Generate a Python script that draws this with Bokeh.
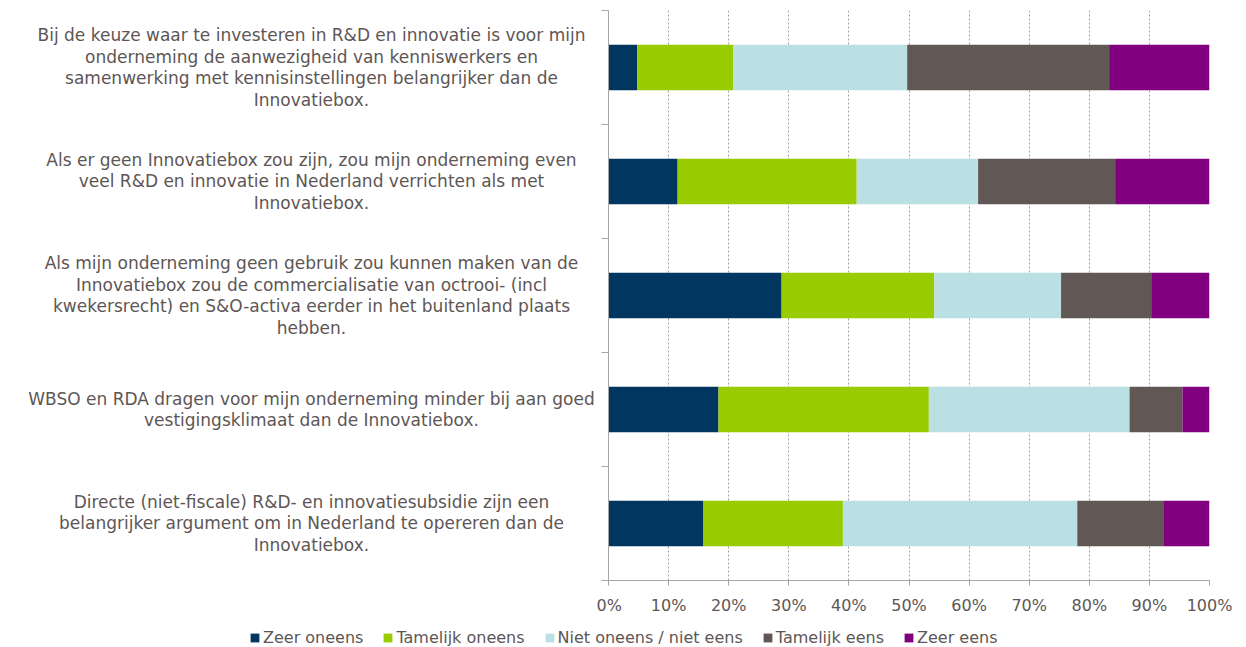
from bokeh.plotting import figure
from bokeh.layouts import column, row
from bokeh.models import Range1d, FixedTicker, PrintfTickFormatter, ColumnDataSource, Legend, LegendItem
from bokeh.core.properties import value
from bokeh.embed import file_html
from bokeh.resources import INLINE

statements = [
    "Bij de keuze waar te investeren in R&D en innovatie is voor mijn\nonderneming de aanwezigheid van kenniswerkers en\nsamenwerking met kennisinstellingen belangrijker dan de\nInnovatiebox.",
    "Als er geen Innovatiebox zou zijn, zou mijn onderneming even\nveel R&D en innovatie in Nederland verrichten als met\nInnovatiebox.",
    "Als mijn onderneming geen gebruik zou kunnen maken van de\nInnovatiebox zou de commercialisatie van octrooi- (incl\nkwekersrecht) en S&O-activa eerder in het buitenland plaats\nhebben.",
    "WBSO en RDA dragen voor mijn onderneming minder bij aan goed\nvestigingsklimaat dan de Innovatiebox.",
    "Directe (niet-fiscale) R&D- en innovatiesubsidie zijn een\nbelangrijker argument om in Nederland te opereren dan de\nInnovatiebox.",
]
series_names = ["Zeer oneens", "Tamelijk oneens", "Niet oneens / niet eens", "Tamelijk eens", "Zeer eens"]
zeer_oneens     = [4.8, 11.5, 28.8, 18.3, 15.8]
tamelijk_oneens = [16.0, 29.8, 25.4, 35.0, 23.2]
neutraal        = [28.9, 20.2, 21.1, 33.4, 39.0]
tamelijk_eens   = [33.6, 22.8, 15.0, 8.8, 14.3]
zeer_eens       = [16.7, 15.7, 9.7, 4.5, 7.7]
x_ticks = [0, 10, 20, 30, 40, 50, 60, 70, 80, 90, 100]
colors = ["#00365F", "#99CC00", "#BAE0E3", "#615755", "#800080"]

TEXT = "#5E5655"
FONT = "DejaVu Sans"
n = len(statements)
ypos = [n - 0.5 - i for i in range(n)]
keys = ["s0", "s1", "s2", "s3", "s4"]
source = ColumnDataSource(dict(y=ypos, label=statements,
                               s0=zeer_oneens, s1=tamelijk_oneens, s2=neutraal,
                               s3=tamelijk_eens, s4=zeer_eens))
y_range = Range1d(0, n)

TOP_H = 620
TOP_B = 10
BOT_B = 40

# left panel: statement labels
L = figure(width=596, height=TOP_H, output_backend="svg", toolbar_location=None,
           x_range=Range1d(0, 596), y_range=y_range,
           min_border_left=0, min_border_right=0, min_border_top=TOP_B, min_border_bottom=BOT_B)
L.axis.visible = False
L.grid.grid_line_color = None
L.outline_line_color = None
L.text(x=311, y="y", text="label", source=source, text_align="center", text_baseline="middle",
       text_font=value(FONT), text_font_size=value("17px"), text_color=TEXT, text_line_height=1.09)

# main chart
p = figure(width=644, height=TOP_H, output_backend="svg", toolbar_location=None,
           x_range=Range1d(0, 100), y_range=y_range,
           min_border_left=12, min_border_right=31, min_border_top=TOP_B, min_border_bottom=BOT_B)
p.outline_line_color = None

renderers = p.hbar_stack(keys, y="y", height=0.4, color=colors, line_color=None, source=source)

p.xaxis.ticker = FixedTicker(ticks=x_ticks)
p.xaxis.formatter = PrintfTickFormatter(format="%d%%")
p.xaxis.axis_line_color = "#A6A6A6"
p.xaxis.major_tick_line_color = "#A6A6A6"
p.xaxis.major_tick_out = 5
p.xaxis.major_tick_in = 0
p.xaxis.minor_tick_line_color = None
p.xaxis.major_label_text_font = FONT
p.xaxis.major_label_text_font_size = "16px"
p.xaxis.major_label_text_color = TEXT
p.xaxis.major_label_standoff = 10

p.yaxis.ticker = FixedTicker(ticks=list(range(n + 1)))
p.yaxis.major_label_overrides = {i: "" for i in range(n + 1)}
p.yaxis.major_label_standoff = 0
p.yaxis.axis_line_color = "#A6A6A6"
p.yaxis.major_tick_line_color = "#A6A6A6"
p.yaxis.major_tick_out = 7
p.yaxis.major_tick_in = 0
p.yaxis.minor_tick_line_color = None

p.xgrid.ticker = FixedTicker(ticks=x_ticks)
p.xgrid.grid_line_color = "#A0A0A0"
p.xgrid.grid_line_dash = "2 2"
p.ygrid.grid_line_color = None

# legend panel (swatches drawn from renderers placed outside the visible range)
G = figure(width=1240, height=27, output_backend="svg", toolbar_location=None,
           x_range=Range1d(0, 1), y_range=Range1d(0, 1),
           min_border_left=0, min_border_right=0, min_border_top=0, min_border_bottom=0)
G.axis.visible = False
G.grid.grid_line_color = None
G.outline_line_color = None
items = []
for nm, c in zip(series_names, colors):
    r = G.vbar(x=[10], top=[10], bottom=[9], width=0.1, fill_color=c, line_color=None)
    items.append(LegendItem(label=nm, renderers=[r]))
legend = Legend(items=items, orientation="horizontal", location=(249, 0),
                glyph_width=11, glyph_height=11, label_standoff=3, spacing=19,
                padding=0, margin=0, border_line_color=None, background_fill_alpha=0,
                label_text_font=FONT, label_text_font_size="16px", label_text_color=TEXT)
G.add_layout(legend, "center")

layout = column(row(L, p, spacing=0), G, spacing=0)
open("out.html", "w").write(file_html(layout, INLINE))
